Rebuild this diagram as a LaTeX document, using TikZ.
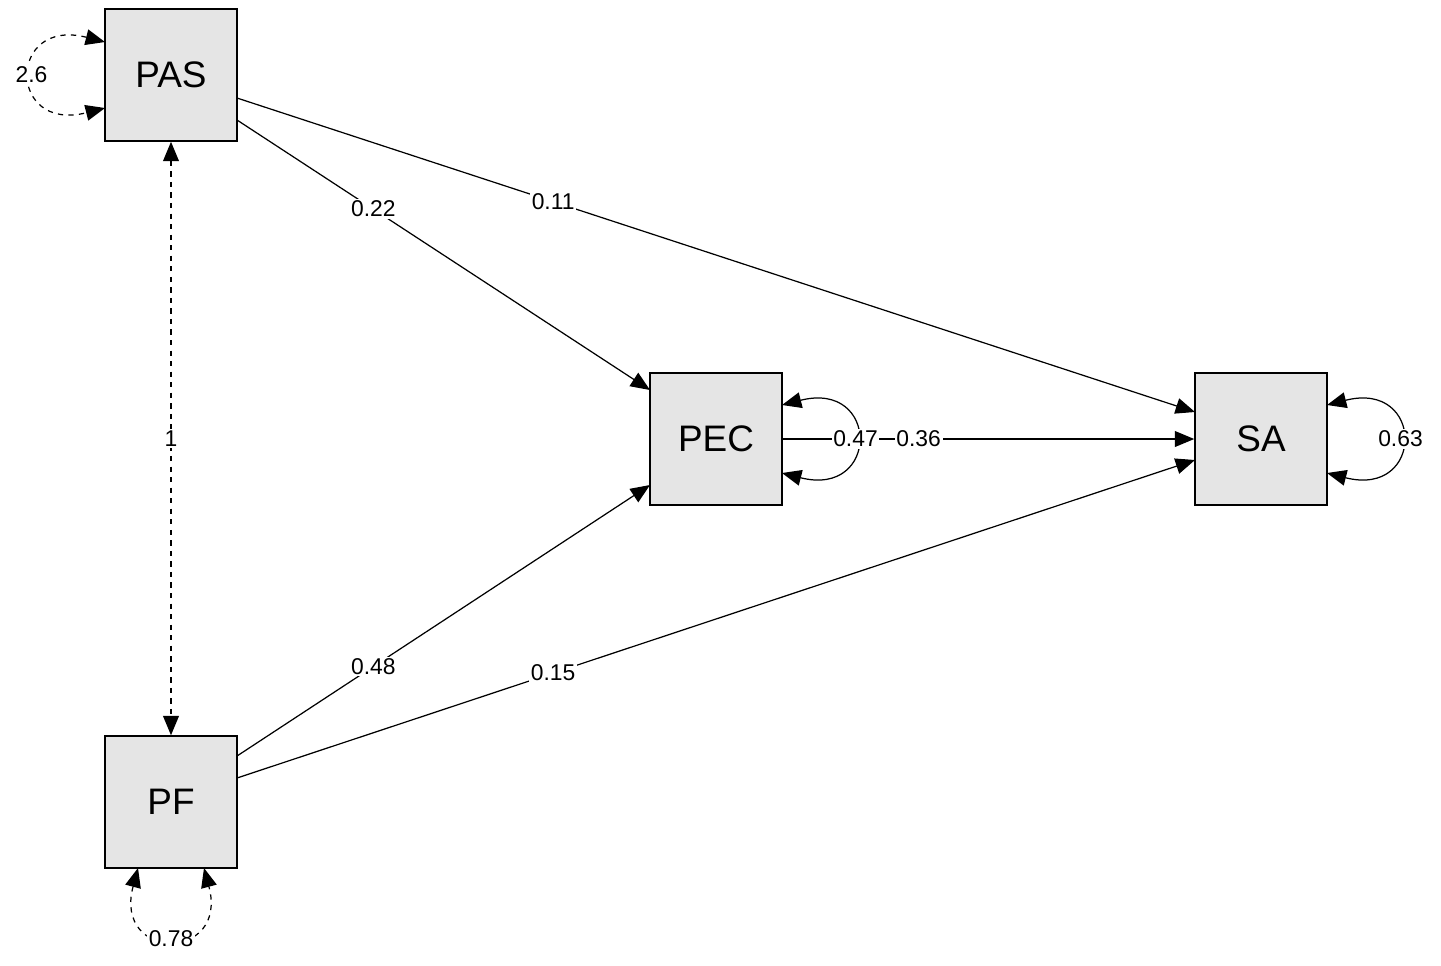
\documentclass[tikz,border=0pt]{standalone}
\usepackage{fontspec}
\setmainfont{Liberation Sans}
\usetikzlibrary{arrows.meta}
\begin{document}
\begin{tikzpicture}[x=0.02cm,y=-0.02cm,
  box/.style={draw,fill=black!10,minimum size=2.64cm,inner sep=0pt,font=\fontsize{21}{24}\selectfont,line width=0.9pt},
  lbl/.style={fill=white,inner sep=1pt,font=\fontsize{13}{15}\selectfont},
  arr/.style={-{Triangle[length=11pt,width=9pt]},line width=0.7pt},
  darr/.style={{Triangle[length=11pt,width=9pt]}-{Triangle[length=11pt,width=9pt]},line width=0.7pt}]
\useasboundingbox (0,0) rectangle (1441,965);
\node[box] (PAS) at (171,75) {PAS};
\node[box] (PEC) at (716,439) {PEC};
\node[box] (SA) at (1261,439) {SA};
\node[box] (PF) at (171,802) {PF};
\coordinate (a1) at (237,120); \coordinate (b1) at (650,390);
\coordinate (a2) at (237,98); \coordinate (b2) at (1195,412);
\coordinate (a3) at (237,756); \coordinate (b3) at (650,485);
\coordinate (a4) at (237,778); \coordinate (b4) at (1195,460);
\draw[arr] (a1) -- node[lbl,pos=0.33]{0.22} (b1);
\draw[arr] (a2) -- node[lbl,pos=0.33]{0.11} (b2);
\draw[arr] (a3) -- node[lbl,pos=0.33]{0.48} (b3);
\draw[arr] (a4) -- node[lbl,pos=0.33]{0.15} (b4);
\draw[arr] (PEC.east) -- node[lbl,pos=0.33]{0.36} (SA.west);
\draw[darr,dashed] (PAS.south) -- node[lbl]{1} (PF.north);
% self loops
\draw[darr] (782,405) .. controls (880,380) and (880,498) .. node[lbl,pos=0.5]{0.47} (782,473);
\draw[darr] (1327,405) .. controls (1425,380) and (1425,498) .. node[lbl,pos=0.5]{0.63} (1327,473);
\draw[darr,dashed] (105,42) .. controls (7,17) and (7,133) .. node[lbl,pos=0.5]{2.6} (105,108);
\draw[darr,dashed] (138,868) .. controls (113,962) and (229,962) .. node[lbl,pos=0.5]{0.78} (204,868);
\end{tikzpicture}
\end{document}
